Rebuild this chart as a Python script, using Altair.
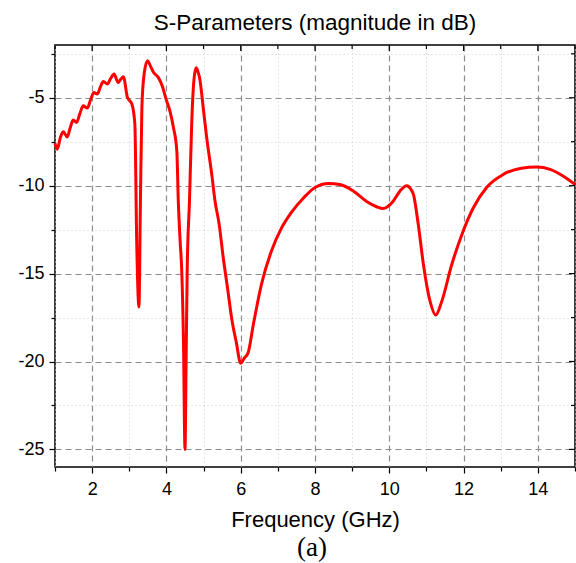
import altair as alt
import pandas as pd

freq = [1.0, 1.06, 1.14, 1.22, 1.33, 1.41, 1.49, 1.58, 1.67, 1.76, 1.87, 1.96,
        2.05, 2.14, 2.22, 2.30, 2.41, 2.50, 2.59, 2.70, 2.77, 2.84, 2.95, 3.07,
        3.15, 3.20, 3.26, 3.30, 3.34, 3.40, 3.49, 3.57, 3.65, 3.78, 3.90, 3.99,
        4.10, 4.19, 4.28, 4.32, 4.37, 4.41, 4.46, 4.50, 4.53, 4.56, 4.62, 4.68,
        4.74, 4.80, 4.86, 4.89, 5.0, 5.08, 5.22, 5.31, 5.42, 5.53, 5.65, 5.76,
        5.88, 6.0, 6.1, 6.2, 6.34, 6.56, 6.83, 7.1, 7.37, 7.69, 8.0, 8.36, 8.67,
        9.03, 9.39, 9.66, 9.84, 9.95, 10.1, 10.29, 10.47, 10.58, 10.65, 10.78,
        10.92, 11.1, 11.25, 11.41, 11.68, 11.95, 12.26, 12.62, 13.07, 13.52,
        13.97, 14.33, 14.69, 15.0]
s_db = [-7.6, -7.93, -7.3, -6.93, -7.23, -6.7, -6.27, -6.41, -5.9, -5.46, -5.59, -5.1,
        -4.70, -4.79, -4.4, -4.07, -4.22, -3.9, -3.65, -4.13, -3.95, -3.8, -4.98, -5.36,
        -6.5, -13.2, -16.9, -10.9, -5.5, -3.65, -2.89, -3.2, -3.55, -3.84, -4.4, -5.08,
        -5.8, -6.7, -8.03, -10.9, -13.2, -14.7, -19.0, -25.0, -20.0, -14.7, -10.9, -6.5,
        -4.0, -3.3, -3.6, -3.84, -5.74, -7.2, -9.36, -10.9, -12.2, -14.1, -15.9, -17.6,
        -18.9, -20.1, -19.8, -19.5, -17.9, -15.6, -13.7, -12.4, -11.5, -10.7, -10.1, -9.87, -9.93,
        -10.3, -10.9, -11.2, -11.3, -11.2, -10.9, -10.3, -10.0, -10.2, -10.5, -12.2,
        -14.5, -16.6, -17.36, -16.6, -14.5, -12.8, -11.27, -10.1, -9.36, -9.02,
        -8.94, -9.07, -9.46, -9.93]

x_ticks = list(range(1, 16))
y_ticks = [-25, -22.5, -20, -17.5, -15, -12.5, -10, -7.5, -5, -2.5]

df = pd.DataFrame({"f": freq, "s": s_db})
xt = pd.DataFrame({"f": x_ticks})
yt = pd.DataFrame({"s": y_ticks})

W, H = 520, 422
FONT = "Liberation Sans"

xscale = alt.Scale(domain=[1, 15], nice=False, zero=False)
yscale = alt.Scale(domain=[-26, -2], nice=False, zero=False)

major_x = "datum.value % 2 == 0"
major_y = "datum.value % 5 == 0"

x_axis = alt.Axis(
    values=x_ticks, labelExpr=f"{major_x} ? toString(datum.value) : ''",
    grid=True,
    gridDash={"condition": {"test": major_x, "value": [6, 4]}, "value": [1, 3]},
    gridColor={"condition": {"test": major_x, "value": "#8c8c8c"}, "value": "#cccccc"},
    gridWidth={"condition": {"test": major_x, "value": 1.2}, "value": 1},
    tickSize={"condition": {"test": major_x, "value": 6}, "value": 4},
    domain=False, tickColor="black", tickWidth=1.2,
    labelFont=FONT, labelFontSize=18, labelColor="black", labelPadding=7,
    title="Frequency (GHz)", titleFont=FONT, titleFontSize=22,
    titleFontWeight="normal", titleColor="black", titlePadding=11,
)
y_axis = alt.Axis(
    values=y_ticks, labelExpr=f"{major_y} ? toString(datum.value) : ''",
    grid=True,
    gridDash={"condition": {"test": major_y, "value": [6, 4]}, "value": [1, 3]},
    gridColor={"condition": {"test": major_y, "value": "#8c8c8c"}, "value": "#cccccc"},
    gridWidth={"condition": {"test": major_y, "value": 1.2}, "value": 1},
    tickSize={"condition": {"test": major_y, "value": 6}, "value": 4},
    domain=False, tickColor="black", tickWidth=1.2,
    labelFont=FONT, labelFontSize=18, labelColor="black", labelPadding=5,
    title=None,
)

line = alt.Chart(df).mark_line(color="#ff0000", strokeWidth=3, interpolate="monotone").encode(
    x=alt.X("f:Q", scale=xscale, axis=x_axis),
    y=alt.Y("s:Q", scale=yscale, axis=y_axis),
)

def top_tick_layer(test, size):
    return alt.Chart(xt).transform_filter(test).mark_rule(
        color="black", strokeWidth=1.2
    ).encode(x=alt.X("f:Q", scale=xscale, axis=x_axis), y=alt.value(0), y2=alt.value(size))

def right_tick_layer(test, size):
    return alt.Chart(yt).transform_filter(test).mark_rule(
        color="black", strokeWidth=1.2
    ).encode(y=alt.Y("s:Q", scale=yscale, axis=y_axis), x=alt.value(W), x2=alt.value(W - size))

ticks = [
    top_tick_layer("datum.f % 2 == 0", 6),
    top_tick_layer("datum.f % 2 != 0", 4),
    right_tick_layer("datum.s % 5 == 0", 6),
    right_tick_layer("datum.s % 5 != 0", 4),
]

caption = alt.Chart(pd.DataFrame({"t": ["(a)"]})).mark_text(
    font="Liberation Serif", fontSize=27, color="black", baseline="middle", align="center"
).encode(x=alt.value(W / 2 - 3), y=alt.value(H + 81), text="t:N")

chart = alt.layer(line, *ticks, caption).properties(
    width=W, height=H,
    title=alt.TitleParams("S-Parameters (magnitude in dB)", font=FONT, fontSize=22.5,
                          fontWeight="normal", color="black", anchor="middle", offset=10),
    autosize=alt.AutoSizeParams(type="none"),
    padding={"left": 55, "top": 45, "right": 1, "bottom": 96},
    background="white",
).configure_view(stroke="black", strokeWidth=1.5)

chart.save("out.html", embed_options={"renderer": "svg", "actions": False})
